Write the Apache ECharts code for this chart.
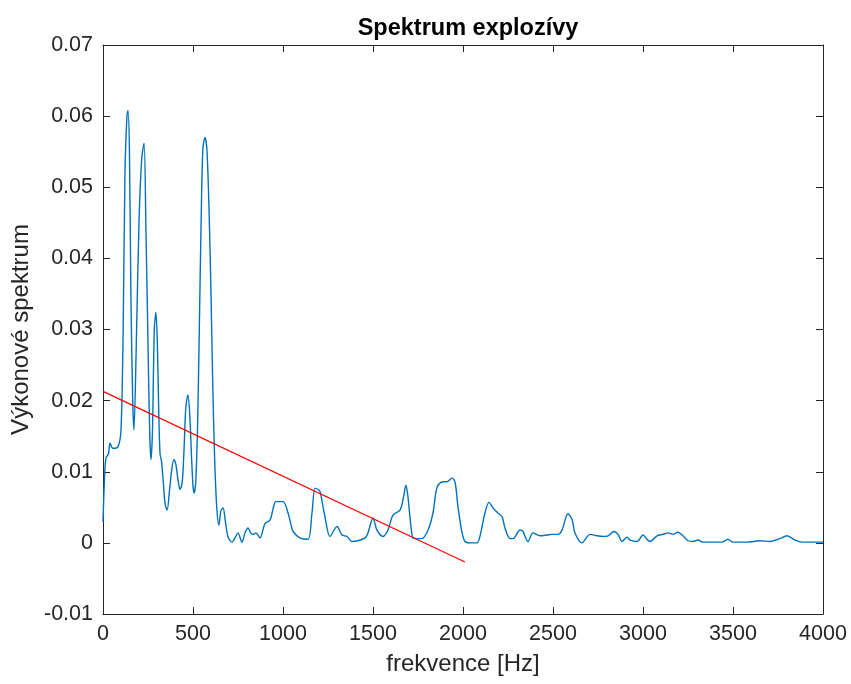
<!DOCTYPE html>
<html>
<head>
<meta charset="utf-8">
<script src="https://cdn.jsdelivr.net/npm/echarts@6/dist/echarts.min.js"></script>
<style>html,body{margin:0;padding:0;background:#fff;}#c{width:851px;height:684px;}</style>
</head>
<body>
<div id="c"></div>
<script>
const freq = [0,10,17,30,39,55,83,100,112,122,133,139,147,155,165,172,185,200,215,228,238,250,260,267,275,285,294,302,310,317,325,335,345,356,370,383,394,405,416,428,440,450,460,472,482,492,500,506,515,525,535,545,555,567,578,590,600,610,620,632,644,655,667,680,695,717,735,750,772,790,806,820,833,850,872,900,928,945,960,1000,1028,1045,1056,1094,1139,1161,1178,1195,1206,1233,1261,1300,1328,1356,1383,1417,1456,1472,1500,1522,1556,1583,1611,1650,1670,1683,1694,1708,1722,1744,1772,1806,1833,1850,1861,1889,1911,1939,1956,1972,1994,2011,2039,2078,2094,2122,2144,2167,2194,2217,2233,2261,2278,2317,2333,2361,2389,2428,2467,2494,2528,2550,2583,2606,2622,2661,2706,2744,2778,2806,2839,2861,2883,2911,2928,2967,3000,3022,3039,3078,3111,3139,3167,3194,3222,3250,3278,3306,3333,3389,3439,3472,3500,3578,3650,3706,3761,3800,3844,3883,3944,4000];
const power = [0.003,0.010,0.012,0.0125,0.014,0.0133,0.0135,0.0159,0.030,0.052,0.0600,0.0608,0.055,0.035,0.020,0.0159,0.028,0.045,0.054,0.0562,0.045,0.028,0.015,0.0117,0.016,0.030,0.0324,0.028,0.018,0.0125,0.0115,0.0085,0.0055,0.0046,0.0075,0.0105,0.0117,0.011,0.009,0.0075,0.0085,0.013,0.019,0.0208,0.018,0.012,0.008,0.007,0.0085,0.016,0.030,0.045,0.0555,0.057,0.055,0.046,0.035,0.022,0.012,0.005,0.0025,0.0045,0.0049,0.003,0.0008,0.0001,0.0008,0.0014,0.0001,0.0015,0.0021,0.0014,0.0012,0.0014,0.0007,0.0027,0.0032,0.0048,0.0058,0.0058,0.0042,0.0025,0.0016,0.0007,0.0005,0.0042,0.0077,0.0075,0.0072,0.0037,0.0009,0.0023,0.0011,0.0009,0.0002,0.0003,0.0007,0.0014,0.0035,0.0018,0.0009,0.0018,0.0039,0.0046,0.0065,0.0081,0.0065,0.003,0.0007,0.0006,0.0006,0.0018,0.0042,0.0072,0.0081,0.0086,0.0086,0.0091,0.0085,0.0051,0.0015,0.0002,0.0,0.0,0.0009,0.0042,0.0057,0.0049,0.0042,0.0037,0.0021,0.0006,0.0006,0.0018,0.0016,0.0002,0.0014,0.001,0.0011,0.0012,0.0012,0.0018,0.0041,0.0033,0.0014,0.0,0.0012,0.001,0.0009,0.001,0.0016,0.0012,0.0002,0.0008,0.0004,0.0002,0.0011,0.0005,0.0002,0.001,0.0012,0.0014,0.0012,0.0015,0.001,0.0003,0.0002,0.0004,0.0001,0.0001,0.0001,0.0005,0.0001,0.0001,0.0003,0.0002,0.0006,0.001,0.0004,0.0001,0.0001,0.0001];
const trendX = [0, 2011];
const trendY = [0.0213, -0.0027];
const xTicks = [0,500,1000,1500,2000,2500,3000,3500,4000];
const yTicks = [-0.01,0,0.01,0.02,0.03,0.04,0.05,0.06,0.07];

const chart = echarts.init(document.getElementById('c'));
const font = '"Liberation Sans", Arial, sans-serif';
const axisCol = '#262626';
const mkTick = () => ({show:true, inside:true, length:7, lineStyle:{color:axisCol, width:1}});
const mkLine = () => ({show:true, onZero:false, lineStyle:{color:axisCol, width:1}});
chart.setOption({
  animation:false,
  backgroundColor:'#fff',
  title:{text:'Spektrum explozívy', left:463, top:12, textAlign:'center',
    textStyle:{fontFamily:font, fontWeight:'bold', fontSize:23.5, color:'#000'}},
  grid:{left:103, right:28, top:45, bottom:70, show:false},
  xAxis:[{type:'value', min:0, max:4000, interval:500, position:'bottom',
    name:'frekvence [Hz]', nameLocation:'middle', nameGap:38,
    nameTextStyle:{fontFamily:font, fontSize:24, color:axisCol},
    axisLine:mkLine(), axisTick:mkTick(),
    axisLabel:{fontFamily:font, fontSize:21.5, color:axisCol, margin:9, formatter:v=>xTicks.includes(v)?String(v):''},
    splitLine:{show:false}},
   {type:'value', min:0, max:4000, interval:500, position:'top',
    axisLine:mkLine(), axisTick:mkTick(),
    axisLabel:{show:false}, splitLine:{show:false}}],
  yAxis:[{type:'value', min:-0.01, max:0.07, interval:0.01, position:'left',
    name:'Výkonové spektrum', nameLocation:'middle', nameGap:66, nameRotate:90,
    nameTextStyle:{fontFamily:font, fontSize:24, color:axisCol},
    axisLine:mkLine(), axisTick:mkTick(),
    axisLabel:{fontFamily:font, fontSize:21.5, color:axisCol, margin:10,
      formatter:v=>{const r=Math.round(v*100)/100; return r===0?'0':r.toFixed(2);}},
    splitLine:{show:false}},
   {type:'value', min:-0.01, max:0.07, interval:0.01, position:'right',
    axisLine:mkLine(), axisTick:mkTick(),
    axisLabel:{show:false}, splitLine:{show:false}}],
  series:[
    {type:'line', data:freq.map((f,i)=>[f,power[i]]), showSymbol:false, smooth:0.3,
     lineStyle:{color:'#0072BD', width:1.4}, z:3},
    {type:'line', data:trendX.map((f,i)=>[f,trendY[i]]), showSymbol:false,
     lineStyle:{color:'#FF0000', width:1.2}, z:4}
  ]
});
</script>
</body>
</html>
